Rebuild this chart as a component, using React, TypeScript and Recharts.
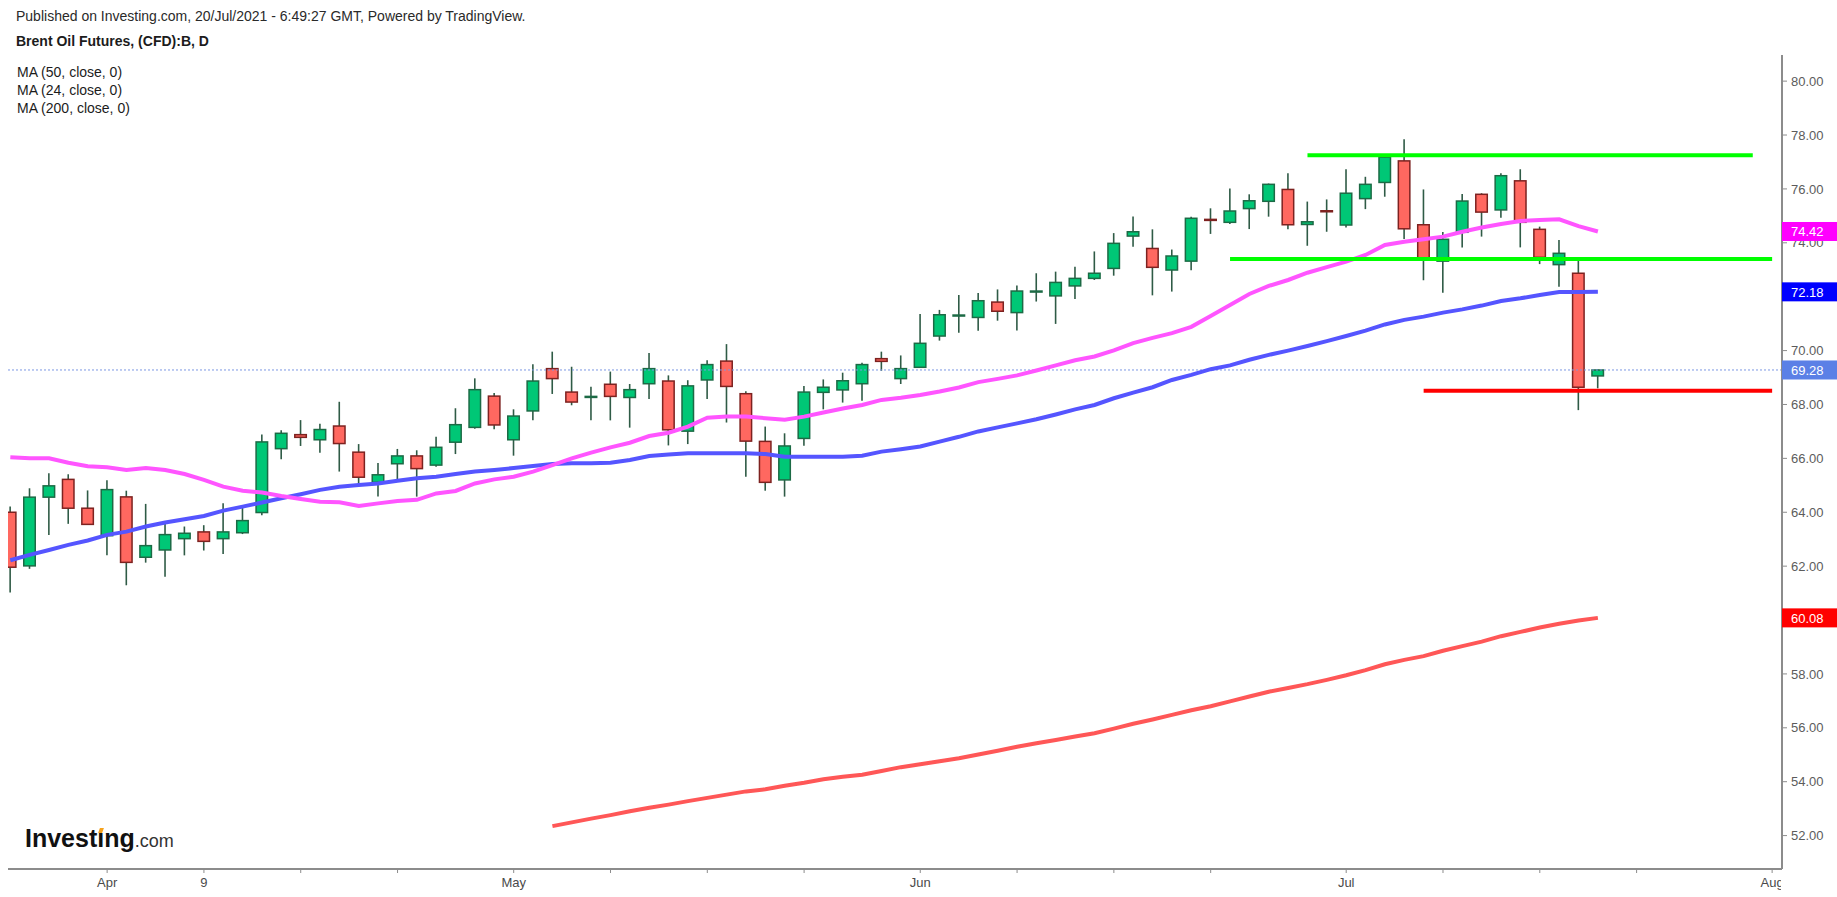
import React from 'react';
import { ComposedChart, Bar, Line, XAxis, YAxis, ReferenceLine } from 'recharts';

const FONT = '"Liberation Sans", Arial, Helvetica, sans-serif';

// daily candles, Brent CFD (Mar 25 - Jul 20, 2021)
const DATES = [
  'Mar 25', 'Mar 26', 'Mar 29', 'Mar 30', 'Mar 31', 'Apr 1', 'Apr 5', 'Apr 6', 'Apr 7', 'Apr 8',
  'Apr 9', 'Apr 12', 'Apr 13', 'Apr 14', 'Apr 15', 'Apr 16', 'Apr 19', 'Apr 20', 'Apr 21', 'Apr 22',
  'Apr 23', 'Apr 26', 'Apr 27', 'Apr 28', 'Apr 29', 'Apr 30', 'May 3', 'May 4', 'May 5', 'May 6',
  'May 7', 'May 10', 'May 11', 'May 12', 'May 13', 'May 14', 'May 17', 'May 18', 'May 19', 'May 20',
  'May 21', 'May 24', 'May 25', 'May 26', 'May 27', 'May 28', 'May 31', 'Jun 1', 'Jun 2', 'Jun 3',
  'Jun 4', 'Jun 7', 'Jun 8', 'Jun 9', 'Jun 10', 'Jun 11', 'Jun 14', 'Jun 15', 'Jun 16', 'Jun 17',
  'Jun 18', 'Jun 21', 'Jun 22', 'Jun 23', 'Jun 24', 'Jun 25', 'Jun 28', 'Jun 29', 'Jun 30', 'Jul 1',
  'Jul 2', 'Jul 5', 'Jul 6', 'Jul 7', 'Jul 8', 'Jul 9', 'Jul 12', 'Jul 13', 'Jul 14', 'Jul 15',
  'Jul 16', 'Jul 19', 'Jul 20',
];

const OPEN = [
  64.0, 62.01, 64.56, 65.22, 64.15, 63.13, 64.57, 62.33, 62.6, 63.02,
  63.27, 63.02, 63.24, 63.99, 66.36, 66.88, 66.69, 67.2, 66.23, 65.11,
  65.8, 66.09, 65.75, 66.6, 67.15, 68.31, 66.69, 67.76, 69.33, 68.46,
  68.27, 68.75, 68.26, 68.77, 68.87, 67.01, 68.91, 69.61, 68.4, 66.63,
  65.2, 66.74, 68.45, 68.54, 68.77, 69.7, 68.96, 69.38, 70.54, 71.3,
  71.23, 71.8, 71.41, 72.19, 72.03, 72.4, 72.68, 73.05, 74.25, 73.79,
  72.99, 73.32, 74.86, 74.76, 75.27, 75.54, 75.98, 74.68, 75.18, 74.66,
  75.64, 76.24, 77.04, 74.67, 73.32, 74.39, 75.8, 75.22, 76.3, 74.5,
  73.19, 72.87, 69.06,
];
const HIGH = [
  64.21, 64.89, 65.45, 65.41, 64.81, 65.19, 64.8, 64.31, 63.57, 63.47,
  63.52, 64.33, 64.21, 66.89, 67.04, 67.42, 67.28, 68.1, 66.53, 65.83,
  66.35, 66.3, 66.8, 67.86, 68.97, 68.43, 67.82, 69.49, 69.96, 69.4,
  68.66, 69.22, 68.76, 69.91, 69.08, 68.9, 69.64, 70.24, 68.49, 67.18,
  66.93, 68.69, 68.93, 69.18, 69.55, 69.96, 69.82, 71.36, 71.51, 72.06,
  72.14, 72.27, 72.42, 72.87, 72.93, 73.11, 73.68, 74.36, 74.98, 74.5,
  73.75, 74.97, 75.28, 76.02, 75.8, 76.2, 76.58, 75.53, 75.61, 76.73,
  76.45, 77.28, 77.84, 75.98, 74.4, 75.81, 75.84, 76.58, 76.73, 74.6,
  74.1, 73.34, 69.3,
];
const LOW = [
  61.02, 61.9, 63.16, 63.57, 63.54, 62.4, 61.29, 62.13, 61.61, 62.4,
  62.58, 62.45, 63.19, 63.89, 65.97, 66.46, 66.21, 65.51, 64.99, 64.58,
  65.19, 64.58, 65.69, 66.16, 67.1, 67.08, 66.1, 67.41, 68.39, 67.97,
  67.41, 67.41, 67.14, 68.2, 66.48, 66.53, 68.2, 67.33, 65.32, 64.8,
  64.58, 66.47, 67.82, 68.07, 68.14, 69.25, 68.76, 69.35, 70.37, 70.66,
  70.74, 71.11, 70.75, 71.82, 70.99, 71.91, 72.62, 72.78, 73.85, 72.05,
  72.19, 72.98, 74.33, 74.7, 74.51, 74.97, 74.5, 73.89, 74.41, 74.57,
  75.25, 75.71, 74.14, 72.61, 72.15, 73.83, 74.23, 74.93, 73.83, 73.21,
  72.37, 67.79, 68.6,
];
const CLOSE = [
  61.96, 64.56, 64.98, 64.15, 63.55, 64.84, 62.14, 62.76, 63.17, 63.22,
  62.92, 63.27, 63.69, 66.61, 66.93, 66.78, 67.07, 66.55, 65.3, 65.39,
  66.09, 65.62, 66.41, 67.25, 68.55, 67.24, 67.57, 68.87, 68.96, 68.09,
  68.29, 68.3, 68.55, 69.33, 67.06, 68.69, 69.48, 68.67, 66.64, 65.11,
  66.46, 68.46, 68.64, 68.88, 69.48, 69.6, 69.33, 70.27, 71.33, 71.31,
  71.85, 71.46, 72.21, 72.2, 72.53, 72.68, 72.87, 73.98, 74.41, 73.09,
  73.51, 74.91, 74.8, 75.18, 75.56, 76.17, 74.67, 74.78, 75.14, 75.84,
  76.17, 77.18, 74.52, 73.41, 74.13, 75.55, 75.14, 76.49, 74.76, 73.46,
  73.61, 68.64, 69.28,
];

const MA24 = [
  66.04, 66.0, 66.0, 65.84, 65.71, 65.67, 65.57, 65.64, 65.57, 65.42,
  65.2, 64.95, 64.8, 64.73, 64.6, 64.49, 64.39, 64.37, 64.23, 64.33,
  64.42, 64.46, 64.7, 64.79, 65.07, 65.22, 65.32, 65.51, 65.75, 66.0,
  66.21, 66.41, 66.58, 66.83, 66.95, 67.18, 67.51, 67.55, 67.55, 67.49,
  67.43, 67.55, 67.7, 67.85, 67.98, 68.17, 68.25, 68.35, 68.48, 68.63,
  68.83, 68.95, 69.08, 69.26, 69.45, 69.64, 69.78, 70.01, 70.28, 70.47,
  70.65, 70.88, 71.28, 71.69, 72.1, 72.4, 72.62, 72.89, 73.1, 73.3,
  73.55, 73.92, 74.04, 74.13, 74.23, 74.41, 74.57, 74.7, 74.81, 74.85,
  74.87, 74.62, 74.42,
];
const MA50 = [
  62.22, 62.42, 62.6, 62.79, 62.95, 63.16, 63.28, 63.47, 63.62, 63.74,
  63.86, 64.06, 64.21, 64.36, 64.52, 64.67, 64.83, 64.95, 65.01, 65.07,
  65.17, 65.26, 65.32, 65.42, 65.51, 65.57, 65.64, 65.72, 65.79, 65.82,
  65.82, 65.84, 65.94, 66.09, 66.14, 66.19, 66.19, 66.19, 66.19, 66.16,
  66.06, 66.06, 66.06, 66.06, 66.1, 66.25, 66.34, 66.44, 66.62, 66.8,
  67.0, 67.15, 67.3, 67.45, 67.63, 67.82, 67.98, 68.23, 68.44, 68.64,
  68.91, 69.1, 69.31, 69.45, 69.66, 69.84, 70.0, 70.17, 70.35, 70.54,
  70.74, 70.97, 71.14, 71.26, 71.41, 71.53, 71.67, 71.84, 71.94, 72.06,
  72.17, 72.17, 72.18,
];
// MA200 is only drawn from May 5 onwards
const MA200_FIRST = 'May 5';
const MA200 = [
  52.35, 52.49, 52.63, 52.76, 52.9, 53.03, 53.15, 53.28, 53.4, 53.52,
  53.64, 53.72, 53.85, 53.96, 54.09, 54.18, 54.26, 54.4, 54.54, 54.65,
  54.76, 54.87, 55.01, 55.15, 55.3, 55.43, 55.55, 55.68, 55.8, 55.97,
  56.15, 56.31, 56.48, 56.65, 56.8, 56.98, 57.16, 57.34, 57.48, 57.62,
  57.78, 57.95, 58.14, 58.36, 58.52, 58.66, 58.86, 59.03, 59.2, 59.4,
  59.56, 59.72, 59.86, 59.98, 60.08,
];

const Y_TICKS = [52, 54, 56, 58, 60, 62, 64, 66, 68, 70, 72, 74, 76, 78, 80];
// x ticks are bar indexes; only some of them carry a label
const X_TICKS = [5, 10, 15, 20, 26, 31, 36, 41, 47, 52, 57, 62, 69, 74, 79, 84, 91];
const X_LABELS: Record<number, string> = { 5: 'Apr', 10: '9', 26: 'May', 47: 'Jun', 69: 'Jul', 91: 'Aug' };

// hand drawn levels (price, first bar, last bar)
const LEVEL_PRICE = [77.25, 73.4, 68.51];
const LEVEL_FROM = [67, 63, 73];
const LEVEL_TO = [90, 91, 91];
const LEVEL_COLOR = ['#00ff00', '#00ff00', '#ff0000'];

const LAST_PRICE = 69.28;
// last values shown as coloured tags on the price scale
const BADGE_VALUES = [74.42, 72.18, 69.28, 60.08];
const BADGE_COLORS = ['#ff00ff', '#0000ff', '#5b80e6', '#ff0000'];

const ma200Start = DATES.indexOf(MA200_FIRST);
const rows = DATES.map((date, i) => ({
  i,
  date,
  open: OPEN[i],
  high: HIGH[i],
  low: LOW[i],
  close: CLOSE[i],
  range: [LOW[i], HIGH[i]],
  ma24: MA24[i],
  ma50: MA50[i],
  ma200: i >= ma200Start ? MA200[i - ma200Start] : null,
}));

const UP = '#00c776';
const UP_EDGE = '#1c6a45';
const DOWN = '#ff6860';
const DOWN_EDGE = '#7d2220';
const WICK = '#2f5b46';

const Candle = (props: any) => {
  const { x, y, width, height, payload } = props;
  if (!payload || x == null || y == null) return null;
  const { open, close, high, low } = payload;
  const top = Math.min(y, y + height);
  const h = Math.abs(height);
  const k = h / (high - low);
  const cx = x + width / 2;
  const yO = top + (high - open) * k;
  const yC = top + (high - close) * k;
  const up = close >= open;
  const bTop = Math.min(yO, yC);
  const bH = Math.abs(yO - yC);
  return (
    <g>
      <line x1={cx} x2={cx} y1={top} y2={top + h} stroke={WICK} strokeWidth={1.6} />
      {bH < 2 ? (
        <rect x={x} y={bTop - 1} width={width} height={2.5} fill={up ? UP_EDGE : DOWN_EDGE} />
      ) : (
        <rect
          x={x + 0.75}
          y={bTop}
          width={width - 1.5}
          height={bH}
          fill={up ? UP : DOWN}
          stroke={up ? UP_EDGE : DOWN_EDGE}
          strokeWidth={1.5}
        />
      )}
    </g>
  );
};

const XTick = (props: any) => {
  const { x, y, payload } = props;
  const label = X_LABELS[payload.value];
  if (!label) return null;
  return (
    <g>
      <defs>
        <clipPath id={`xt-${payload.value}`}>
          <rect x={0} y={0} width={1781} height={897} />
        </clipPath>
      </defs>
      <text
        x={x}
        y={y}
        dy="0.71em"
        textAnchor="middle"
        fill="#4a4a4a"
        fontSize={13}
        fontFamily={FONT}
        clipPath={`url(#xt-${payload.value})`}
      >
        {label}
      </text>
    </g>
  );
};

// price scale tick; the last-value tags come last so they sit on top
const YTick = (props: any) => {
  const { x, y, payload } = props;
  const v = payload.value as number;
  const k = BADGE_VALUES.indexOf(v);
  if (k >= 0) {
    return (
      <g>
        <rect x={x - 9} y={y - 9.5} width={60} height={19} fill={BADGE_COLORS[k]} />
        <text x={x} y={y} dy="0.36em" fill="#ffffff" fontSize={13} fontFamily={FONT}>
          {v.toFixed(2)}
        </text>
      </g>
    );
  }
  return (
    <text x={x} y={y} dy="0.36em" fill="#5c5c5c" fontSize={13} fontFamily={FONT}>
      {v.toFixed(2)}
    </text>
  );
};

const textRow = (top: number, left: number, bold = false): React.CSSProperties => ({
  position: 'absolute',
  top,
  left,
  fontSize: 14,
  lineHeight: '16px',
  fontWeight: bold ? 700 : 400,
  color: '#1c1c1c',
  whiteSpace: 'nowrap',
});

export default function App() {
  return (
    <div style={{ position: 'relative', width: 1837, height: 897, background: '#fff', fontFamily: FONT, overflow: 'hidden' }}>
      <style>{'body{margin:0;background:#fff}'}</style>
      <ComposedChart
        width={1837}
        height={897}
        data={rows}
        margin={{ top: 55, right: 0, bottom: 0, left: 8 }}
        style={{ position: 'absolute', left: 0, top: 0 }}
      >
        <XAxis
          type="number"
          dataKey="i"
          domain={[-0.12, 91.51]}
          ticks={X_TICKS}
          interval={0}
          allowDataOverflow
          height={28}
          axisLine={{ stroke: '#8c8c8c', strokeWidth: 2 }}
          tickLine={{ stroke: '#8c8c8c' }}
          tickSize={4}
          tickMargin={5}
          tick={<XTick />}
        />
        <YAxis
          orientation="right"
          domain={[50.76, 80.97]}
          ticks={[...Y_TICKS, ...BADGE_VALUES]}
          interval={0}
          allowDataOverflow
          width={55}
          axisLine={{ stroke: '#8c8c8c', strokeWidth: 2 }}
          tickLine={{ stroke: '#8c8c8c' }}
          tickSize={5}
          tickMargin={4}
          tick={<YTick />}
        />
        <ReferenceLine y={LAST_PRICE} stroke="#7b97e3" strokeWidth={1} strokeDasharray="2 2" />
        <Bar dataKey="range" barSize={13} shape={<Candle />} isAnimationActive={false} />
        <Line dataKey="ma200" stroke="#ff5757" strokeWidth={4} dot={false} activeDot={false} isAnimationActive={false} />
        <Line dataKey="ma50" stroke="#5555ff" strokeWidth={4} dot={false} activeDot={false} isAnimationActive={false} />
        <Line dataKey="ma24" stroke="#ff55ff" strokeWidth={4} dot={false} activeDot={false} isAnimationActive={false} />
        {LEVEL_PRICE.map((p, k) => (
          <ReferenceLine
            key={`lvl-${k}`}
            segment={[
              { x: LEVEL_FROM[k], y: p },
              { x: LEVEL_TO[k], y: p },
            ]}
            stroke={LEVEL_COLOR[k]}
            strokeWidth={4}
          />
        ))}
      </ComposedChart>

      <div style={{ ...textRow(8, 16), color: '#2a2a2a' }}>
        Published on Investing.com, 20/Jul/2021 - 6:49:27 GMT, Powered by TradingView.
      </div>
      <div style={textRow(33, 16, true)}>Brent Oil Futures, (CFD):B, D</div>
      <div style={textRow(64, 17)}>MA (50, close, 0)</div>
      <div style={textRow(82, 17)}>MA (24, close, 0)</div>
      <div style={textRow(100, 17)}>MA (200, close, 0)</div>

      <div style={{ position: 'absolute', left: 25, top: 824, display: 'flex', alignItems: 'baseline', whiteSpace: 'nowrap' }}>
        <span style={{ fontSize: 25, fontWeight: 700, color: '#111', lineHeight: '28px' }}>
          Invest
          <span style={{ position: 'relative' }}>
            ı
            <span
              style={{
                position: 'absolute',
                left: 1.5,
                top: 4,
                width: 4,
                height: 5,
                background: '#f6a21c',
                transform: 'skewX(-20deg)',
              }}
            />
          </span>
          ng
        </span>
        <span style={{ fontSize: 18, color: '#333', lineHeight: '28px' }}>.com</span>
      </div>
    </div>
  );
}
